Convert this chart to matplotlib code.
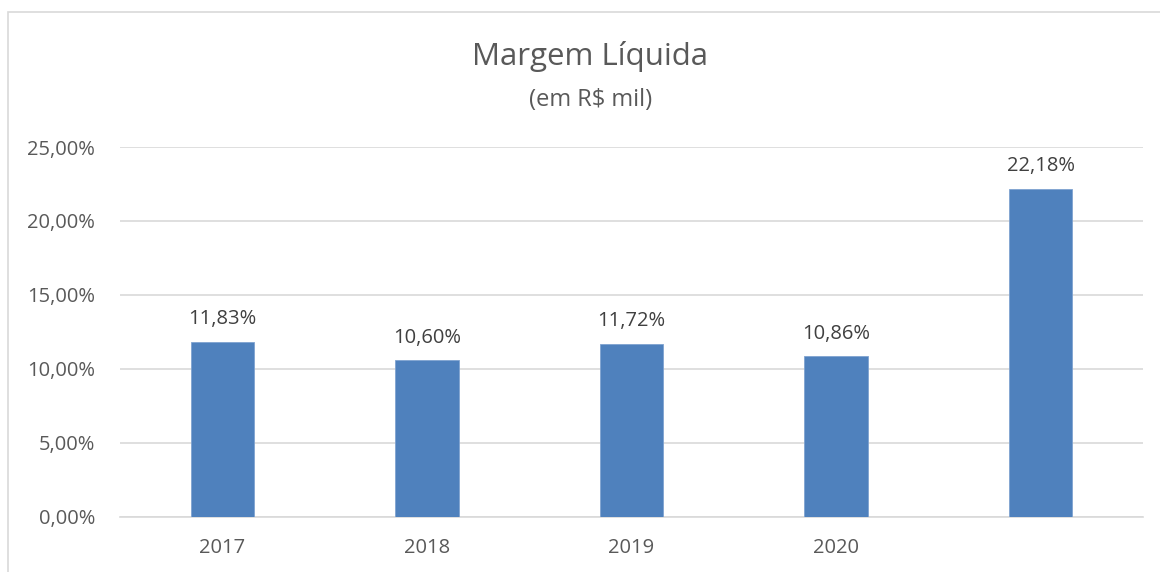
import matplotlib.pyplot as plt
from matplotlib.patches import Rectangle
from matplotlib.ticker import FuncFormatter

anos = ['2017', '2018', '2019', '2020', '']
margem = [11.83, 10.60, 11.72, 10.86, 22.18]
rotulos = ['11,83%', '10,60%', '11,72%', '10,86%', '22,18%']

plt.rcParams['font.family'] = ['Open Sans', 'DejaVu Sans']

fig = plt.figure(figsize=(11.6, 5.72), dpi=100)
ax = fig.add_axes([0.1034, 0.0962, 0.8819, 0.6468])

# moldura do gráfico (só esquerda e topo aparecem no recorte)
fig.patches.append(Rectangle((8 / 1160, -0.1), 1.2, 1 - 12 / 572 + 0.1,
                             transform=fig.transFigure, fill=False,
                             edgecolor='#d9d9d9', linewidth=1.2))

x = range(len(anos))
barras = ax.bar(x, margem, width=0.31, color='#4F81BD', edgecolor='#7fa3d0',
                linewidth=0.6, zorder=3)
for b, txt in zip(barras, rotulos):
    ax.annotate(txt, (b.get_x() + b.get_width() / 2, b.get_height()),
                xytext=(0, 9), textcoords='offset points', ha='center',
                va='bottom', fontsize=14.5, color='#404040')

ax.set_xlim(-0.5, 4.5)
ax.set_ylim(0, 25)
ax.set_yticks([0, 5, 10, 15, 20, 25])
ax.yaxis.set_major_formatter(FuncFormatter(lambda v, p: f'{v:.2f}%'.replace('.', ',')))
ax.set_xticks(list(x))
ax.set_xticklabels(anos)
ax.tick_params(axis='both', length=0, labelsize=14.5, labelcolor='#595959')
ax.tick_params(axis='y', pad=18)
ax.tick_params(axis='x', pad=15)
ax.grid(axis='y', color='#d9d9d9', linewidth=1.2, zorder=0)
for s in ['top', 'right', 'left']:
    ax.spines[s].set_visible(False)
ax.spines['bottom'].set_color('#d9d9d9')
ax.spines['bottom'].set_linewidth(1.2)

fig.text(0.509, 1 - 57 / 572, 'Margem Líquida', ha='center', va='center',
         fontsize=22.5, color='#595959')
fig.text(0.509, 1 - 100 / 572, '(em R$ mil)', ha='center', va='center',
         fontsize=17, color='#595959')

fig.savefig('out.png', dpi=100)
